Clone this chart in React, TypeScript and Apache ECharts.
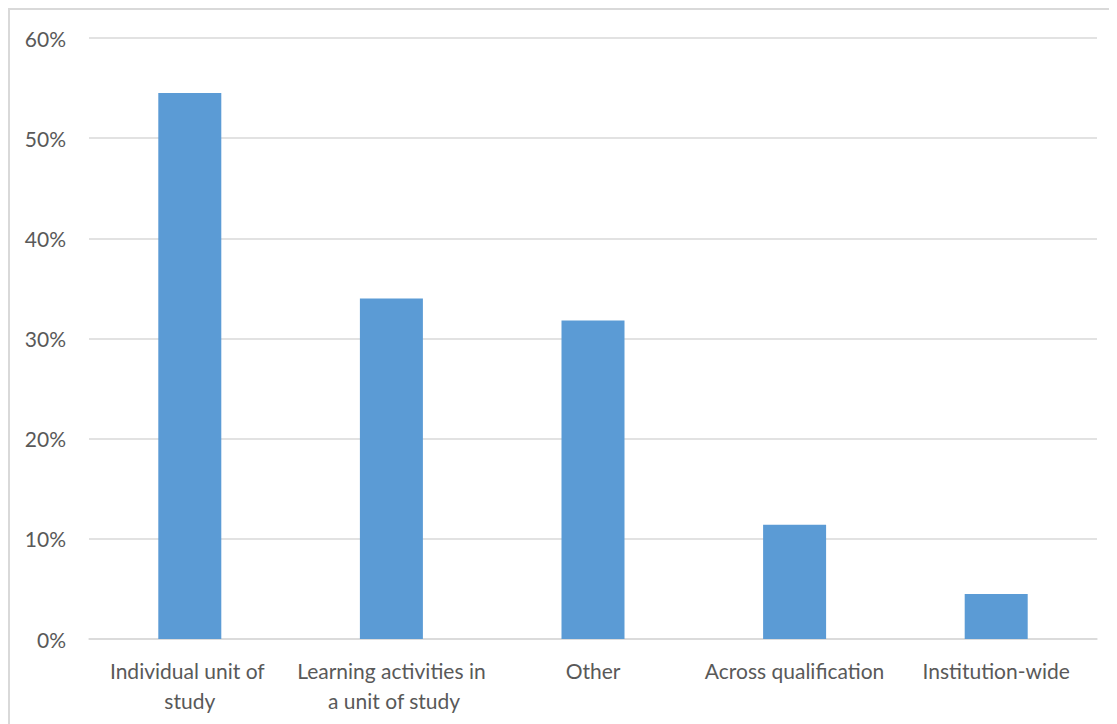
import React, { useEffect, useRef } from "react";
import * as echarts from "echarts";

const categories = [
  "Individual unit of study",
  "Learning activities in a unit of study",
  "Other",
  "Across qualification",
  "Institution-wide",
];
const shares = [54.5, 34.0, 31.8, 11.4, 4.5];
const yTicks = { min: 0, max: 60, interval: 10 };

const FONT = "Lato, 'Open Sans', sans-serif";
const TEXT = "#595959";
const GRID = "#d9d9d9";
const BAR = "#5b9bd5";

export default function App() {
  const ref = useRef<HTMLDivElement>(null);

  useEffect(() => {
    if (!ref.current) return;
    const chart = echarts.init(ref.current, null, { renderer: "svg" });
    chart.setOption({
      animation: false,
      backgroundColor: "#ffffff",
      grid: { left: 79, right: 20, top: 28, bottom: 85, containLabel: false },
      xAxis: {
        type: "category",
        data: categories,
        axisLine: { show: true, lineStyle: { color: GRID, width: 1.5 } },
        axisTick: { show: false },
        axisLabel: {
          interval: 0,
          color: TEXT,
          fontFamily: FONT,
          fontSize: 21,
          lineHeight: 30,
          margin: 16,
          width: 192,
          overflow: "break",
        },
      },
      yAxis: {
        type: "value",
        min: yTicks.min,
        max: yTicks.max,
        interval: yTicks.interval,
        axisLine: { show: false },
        axisTick: { show: false },
        splitLine: { lineStyle: { color: GRID, width: 1.5 } },
        axisLabel: {
          formatter: "{value}%",
          color: TEXT,
          fontFamily: FONT,
          fontSize: 21,
          margin: 23,
        },
      },
      series: [
        {
          type: "bar",
          data: shares,
          barWidth: 63,
          itemStyle: { color: BAR },
        },
      ],
    });
    return () => chart.dispose();
  }, []);

  return (
    <div
      ref={ref}
      style={{
        width: 1109,
        height: 716,
        borderTop: `2px solid ${GRID}`,
        borderLeft: `2px solid ${GRID}`,
        boxSizing: "border-box",
      }}
    />
  );
}
